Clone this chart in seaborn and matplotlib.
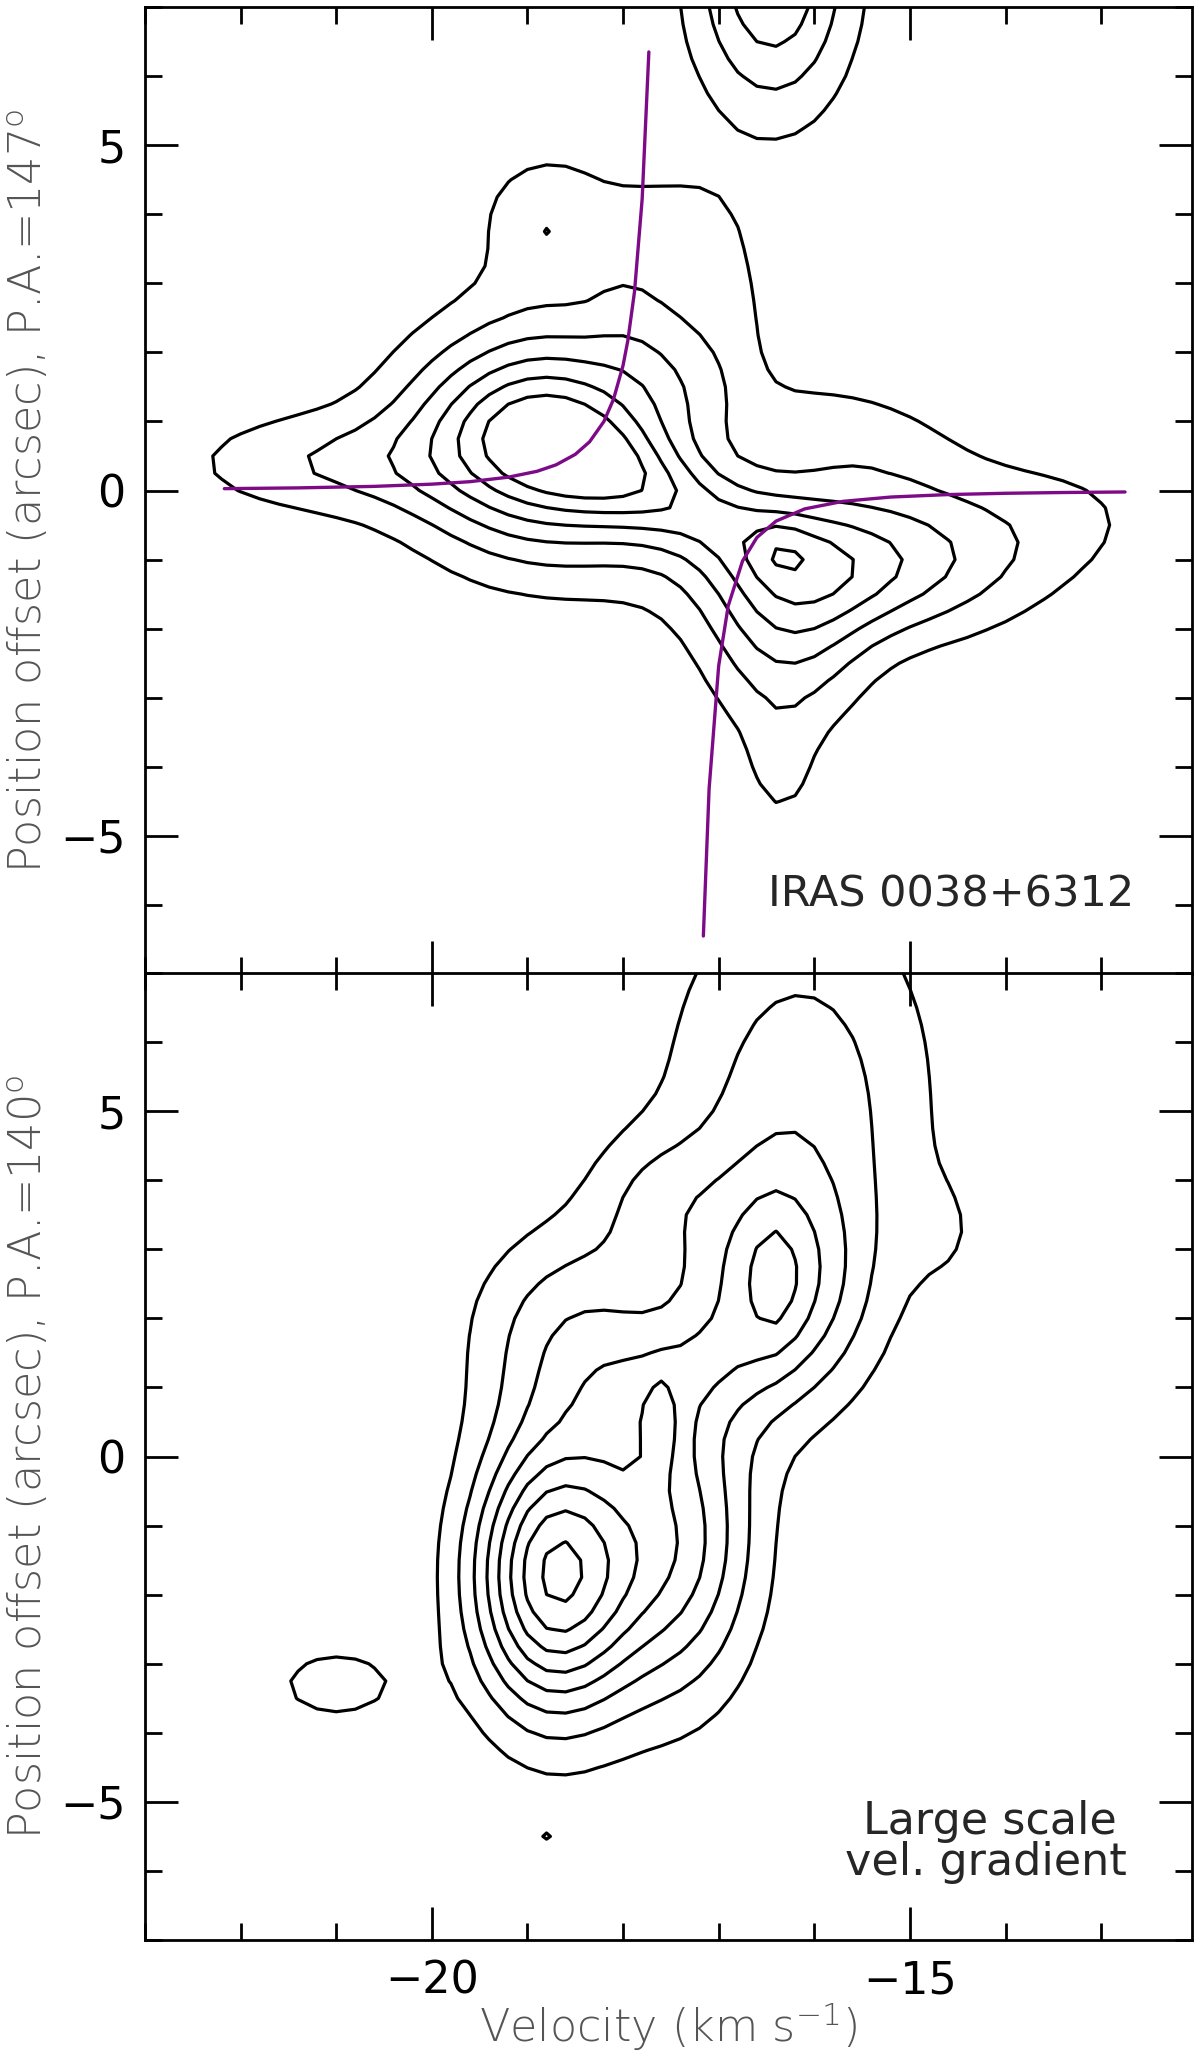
import numpy as np
import matplotlib
matplotlib.use("Agg")
import matplotlib.pyplot as plt
import seaborn as sns
from matplotlib.ticker import MultipleLocator

# ── emission components: centre (km/s, arcsec), widths, angle, peak, shape ──
top_v = [-18.76, -21.1, -15.5, -16.3, -16.35, -13.3, -18.75, -18.8, -17.35, -16.35, -16.44, -17.7, -15.6]
top_y = [0.75, 0.4, -1.0, -2.1, -0.85, -0.3, 4.0, 3.75, 2.9, -4.1, 7.5, 0.0, 0.85]
top_sa = [1.0, 1.1, 1.2, 0.6, 0.2, 0.8, 0.6, 0.07, 0.8, 0.25, 0.59, 1.2, 0.9]
top_sb = [1.17, 0.56, 0.8, 1.1, 0.3, 0.7, 0.75, 0.15, 1.6, 0.6, 1.45, 0.45, 0.55]
top_ang = [0, 0, 0, 0, 0, 0, 0, 0, 0, 0, 0, -33, -20]
top_amp = [6.4, 1.8, 3.9, 2.6, 0.7, 0.8, 1.55, 0.35, 1.15, 1.0, 3.95, 2.4, 1.3]
top_pow = [2, 2, 2, 2, 2, 2, 2, 2, 4, 2, 2, 2, 2]
top_levels = [1, 2, 3, 4, 5, 6]

bot_v = [-18.73, -17.45, -16.42, -16.42, -16.15, -18.5, -17.7, -17.6, -17.8, -17.1, -14.55, -21.0, -18.8]
bot_y = [-1.72, -1.2, 2.4, 2.5, 5.2, 1.8, 3.8, 0.4, 0.9, 1.4, 3.2, -3.3, -5.5]
bot_sa = [0.59, 0.6, 0.65, 0.2, 1.0, 0.75, 0.5, 0.13, 0.5, 0.35, 0.35, 0.6, 0.1]
bot_sb = [1.4, 1.6, 1.2, 0.8, 2.2, 1.1, 0.7, 0.52, 0.6, 0.5, 0.7, 0.5, 0.05]
bot_ang = [0, 0, 0, 0, 0, 0, 0, 0, 0, 0, 0, 0, 0]
bot_amp = [7.9, 4.3, 3.6, 0.8, 2.5, 2.6, 1.3, 1.4, 1.1, 0.8, 0.6, 1.38, 0.95]
bot_pow = [2, 2, 2, 2, 2, 2, 2, 2, 2, 2, 2, 2, 2]
bot_levels = [1, 2, 3, 4, 5, 6, 7, 8]

# purple rotation curves
curve1_v = [-22.17, -21.4, -20.6, -20.0, -19.6, -19.2, -18.9, -18.7, -18.5, -18.35,
            -18.2, -18.1, -18.0, -17.95, -17.88, -17.8, -17.73]
curve1_y = [0.027, 0.038, 0.06, 0.092, 0.128, 0.193, 0.278, 0.372, 0.523, 0.705,
            1.0, 1.32, 1.81, 2.17, 2.88, 4.22, 6.35]
curve2_v = [-17.16, -17.1, -17.0, -16.9, -16.75, -16.6, -16.4, -16.1, -15.7, -15.2,
            -14.6, -14.0, -13.4, -12.75]
curve2_y = [-6.45, -4.32, -2.54, -1.67, -1.02, -0.68, -0.443, -0.266, -0.157, -0.0945,
            -0.0587, -0.04, -0.029, -0.021]

# map pixels: 0.2 km/s channels, 0.25" rows
vgrid = np.arange(-23.0, -11.99, 0.2)
ygrid = np.arange(-7.0, 7.01, 0.25)
V, Y = np.meshgrid(vgrid, ygrid)


def field(cv, cy, sa, sb, ang, amp, pw):
    Z = np.zeros_like(V)
    for v0, y0, a0, b0, t, A, p in zip(cv, cy, sa, sb, ang, amp, pw):
        th = np.deg2rad(t)
        dv, dy = V - v0, Y - y0
        a = dv * np.cos(th) + dy * np.sin(th)
        b = -dv * np.sin(th) + dy * np.cos(th)
        r2 = (a / a0) ** 2 + (b / b0) ** 2
        Z += A * np.exp(-0.5 * r2 ** (p / 2))
    return Z


sns.set_style("ticks")
plt.rcParams['font.family'] = ['DejaVu Sans']
plt.rcParams['mathtext.fontset'] = 'custom'
plt.rcParams['mathtext.rm'] = 'DejaVu Sans:light'
plt.rcParams['mathtext.it'] = 'DejaVu Sans:light:italic'
plt.rcParams['mathtext.bf'] = 'DejaVu Sans:bold'

fig = plt.figure(figsize=(12, 20.71), dpi=100)
ax1 = fig.add_axes([0.1208, 0.5297, 0.8725, 0.4669])
ax2 = fig.add_axes([0.1208, 0.06325, 0.8725, 0.4669])

ax1.contour(V, Y, field(top_v, top_y, top_sa, top_sb, top_ang, top_amp, top_pow),
            levels=top_levels, colors='black', linewidths=2.3)
sns.lineplot(x=curve1_v, y=curve1_y, sort=False, estimator=None, color='#7d0a87', lw=2.4, ax=ax1)
sns.lineplot(x=curve2_v, y=curve2_y, sort=False, estimator=None, color='#7d0a87', lw=2.4, ax=ax1)

ax2.contour(V, Y, field(bot_v, bot_y, bot_sa, bot_sb, bot_ang, bot_amp, bot_pow),
            levels=bot_levels, colors='black', linewidths=2.3)

label_gray = '#555555'
for ax in (ax1, ax2):
    ax.set_xlim(-23.0, -12.05)
    ax.set_ylim(-7.0, 7.0)
    ax.xaxis.set_major_locator(MultipleLocator(5))
    ax.xaxis.set_minor_locator(MultipleLocator(1))
    ax.yaxis.set_major_locator(MultipleLocator(5))
    ax.yaxis.set_minor_locator(MultipleLocator(1))
    ax.tick_params(which='both', direction='in', top=True, right=True, width=2.0,
                   labelsize=32, colors='black')
    ax.tick_params(which='major', length=24, pad=14)
    ax.tick_params(which='minor', length=12)
    for s in ax.spines.values():
        s.set_linewidth(2.0)
        s.set_color('black')
    ax.yaxis.set_label_coords(-0.09, 0.545)

ax1.set_xticklabels([])
ax1.set_xlabel('')
ax1.set_ylabel(r'Position offset (arcsec), P.A.=147$^{\rm o}$', fontsize=32,
               color=label_gray, fontweight='light')
ax2.set_ylabel(r'Position offset (arcsec), P.A.=140$^{\rm o}$', fontsize=32,
               color=label_gray, fontweight='light')
ax2.set_xlabel(r'Velocity (km s$^{-1}$)', fontsize=32, color=label_gray, fontweight='light')
ax2.xaxis.set_label_coords(0.5, -0.062)

ax1.text(-12.66, -6.03, 'IRAS 0038+6312', fontsize=31, ha='right', va='baseline')
ax2.text(-14.16, -5.46, 'Large scale', fontsize=32, ha='center', va='baseline')
ax2.text(-14.2, -6.06, 'vel. gradient', fontsize=32, ha='center', va='baseline')

fig.savefig('out.png', dpi=100)
